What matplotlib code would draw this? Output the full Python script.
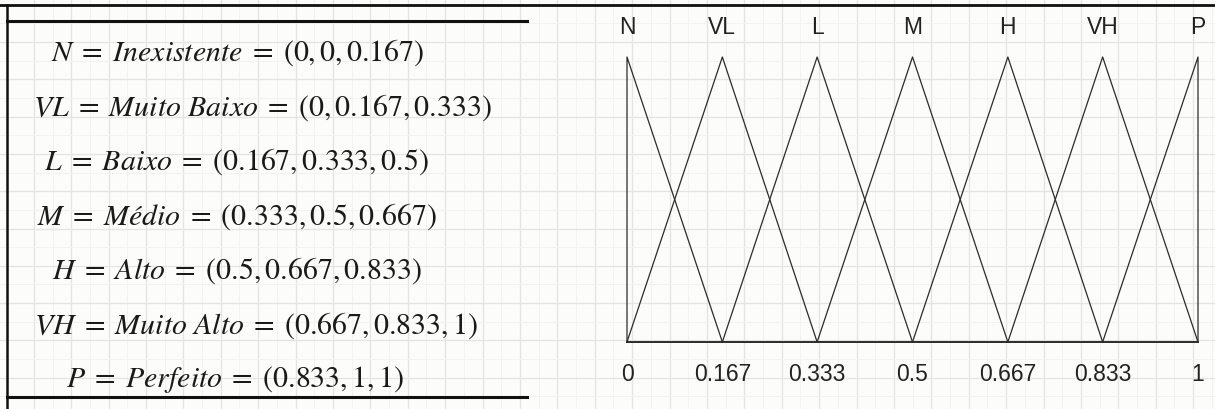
import matplotlib
matplotlib.use('Agg')
import matplotlib.pyplot as plt
import numpy as np

# fuzzy linguistic terms (a, b, c)
labels = ['N', 'VL', 'L', 'M', 'H', 'VH', 'P']
terms = ['Inexistente', 'Muito Baixo', 'Baixo', 'Médio', 'Alto', 'Muito Alto', 'Perfeito']
tri_a = [0, 0, 0.167, 0.333, 0.5, 0.667, 0.833]
tri_b = [0, 0.167, 0.333, 0.5, 0.667, 0.833, 1]
tri_c = [0.167, 0.333, 0.5, 0.667, 0.833, 1, 1]
tick_labels = ['0', '0.167', '0.333', '0.5', '0.667', '0.833', '1']

plt.rcParams['mathtext.fontset'] = 'stix'
plt.rcParams['font.family'] = ['Liberation Sans', 'DejaVu Sans']

W, H = 1215, 410
fig = plt.figure(figsize=(W / 100, H / 100), dpi=100, facecolor='#fcfcfa')

# background: grid paper + table rules (pixel coords)
bg = fig.add_axes([0, 0, 1, 1])
bg.set_xlim(0, W)
bg.set_ylim(H, 0)
bg.axis('off')
for x in np.arange(33.8, W, 37.4):
    bg.axvline(x, color='#e4e4e2', lw=0.9, zorder=0)
    bg.axvline(x + 18.7, color='#f2f2f0', lw=0.7, zorder=0)
for y in np.arange(5.7, H, 37.3):
    bg.axhline(y, color='#e4e4e2', lw=0.9, zorder=0)
    bg.axhline(y + 18.65, color='#f2f2f0', lw=0.7, zorder=0)

bg.plot([0, W], [6, 6], color='#111111', lw=2.0)
bg.plot([7, 7], [6, H], color='#111111', lw=1.8)
bg.plot([7, 527], [22, 22], color='#111111', lw=2.2)
bg.plot([7, 527], [398, 398], color='#111111', lw=2.2)

#table rows
x_centers = [238, 262, 236, 237, 237, 256, 235]
for i in range(len(labels)):
    term = terms[i].replace(' ', r'\ ')
    s = r'$%s\;=\;%s\;=\;(%g,%g,%g)$' % (labels[i], term, tri_a[i], tri_b[i], tri_c[i])
    bg.text(x_centers[i], 53 + 54.5 * i, s, fontsize=21.5, ha='center', va='center',
            color='#1a1a1a')

# membership functions
ax = fig.add_axes([627 / W, (H - 343) / H, (1198 - 627) / W, (343 - 58) / H])
ax.set_xlim(0, 1)
ax.set_ylim(0, 1)
ax.patch.set_visible(False)
for i in range(len(labels)):
    ya = 1 if tri_a[i] == tri_b[i] else 0
    yc = 1 if tri_c[i] == tri_b[i] else 0
    ax.plot([tri_a[i], tri_a[i], tri_b[i], tri_c[i], tri_c[i]],
            [0, ya, 1, yc, 0], color='#2b2b2b', lw=0.9, clip_on=False)

for side in ['top', 'left', 'right']:
    ax.spines[side].set_visible(False)
ax.spines['bottom'].set_color('#2b2b2b')
ax.spines['bottom'].set_linewidth(1.4)
ax.set_yticks([])
ax.set_xticks(tri_b, tick_labels)
ax.tick_params(axis='x', length=0, pad=14.5, labelsize=16.5, labelcolor='#222222')

top = ax.secondary_xaxis('top')
top.set_xticks(tri_b, labels)
top.spines['top'].set_visible(False)
top.tick_params(axis='x', length=0, pad=13.5, labelsize=16.5, labelcolor='#222222')

fig.savefig('out.png', dpi=100, facecolor=fig.get_facecolor())
